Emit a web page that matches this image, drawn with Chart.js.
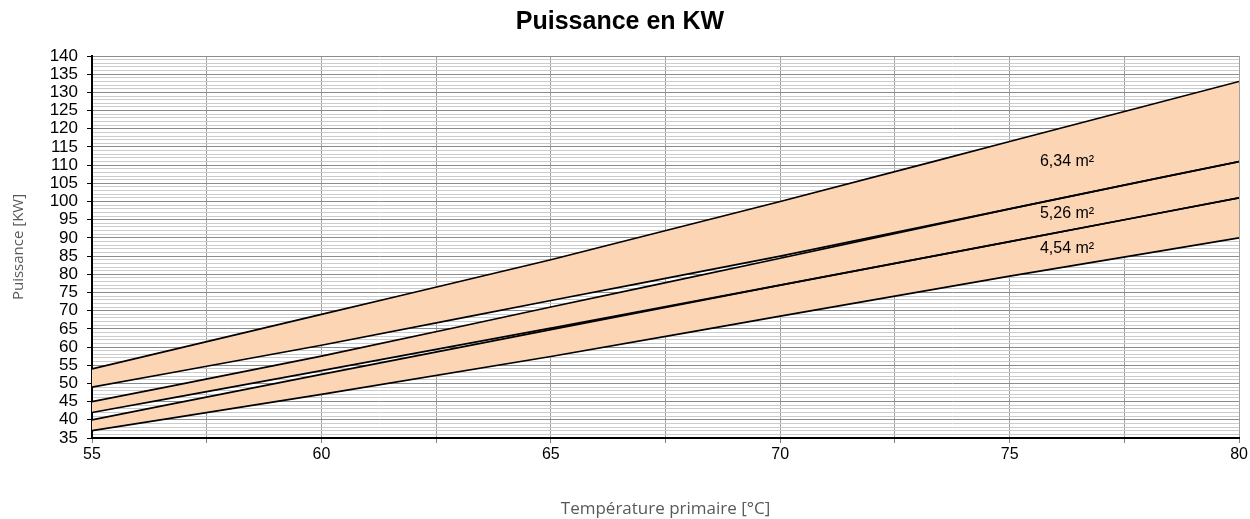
<!DOCTYPE html>
<html>
<head>
<meta charset="utf-8">
<script src="https://cdn.jsdelivr.net/npm/chart.js@4/dist/chart.umd.min.js"></script>
<style>
html, body { margin: 0; padding: 0; background: #fff; }
#wrap { width: 1250px; height: 519px; }
</style>
</head>
<body>
<div id="wrap"><canvas id="puissanceChart"></canvas></div>
<script>
// temperatures primaire (°C) et courbes de puissance (KW)
var temperatures = [55, 60, 65, 70, 75, 80];
var haut634 = [54, 69, 84, 100, 116.5, 133];
var bas634  = [49, 60.5, 72.8, 85.0, 98, 111];
var haut526 = [45, 57.5, 71, 84.4, 98, 111];
var bas526  = [42, 53.5, 65.2, 77, 89, 101];
var haut454 = [40, 52.5, 64.8, 77, 89, 101];
var bas454  = [37, 47, 57.4, 68.5, 79.5, 90];
var surfaces = ['6,34 m²', '5,26 m²', '4,54 m²'];
var yTicks = [35, 140];
var xTicks = [55, 80];

var fillColor = '#fcd5b5';

function pts(vals) {
    return temperatures.map(function (t, i) { return { x: t, y: vals[i] }; });
}

function ligne(vals, fill) {
    return {
        data: pts(vals),
        borderColor: '#000',
        borderWidth: 1.7,
        pointRadius: 0,
        cubicInterpolationMode: 'monotone',
        fill: fill,
        backgroundColor: fillColor
    };
}

// value of a curve at temperature t (for label placement only)
function valeurA(vals, t) {
    for (var i = 0; i < temperatures.length - 1; i++) {
        if (t >= temperatures[i] && t <= temperatures[i + 1]) {
            var k = (t - temperatures[i]) / (temperatures[i + 1] - temperatures[i]);
            return vals[i] + k * (vals[i + 1] - vals[i]);
        }
    }
    return vals[vals.length - 1];
}

var bandes = [[haut634, bas634], [haut526, bas526], [haut454, bas454]];
var labelT = 76.25;

var etiquettes = {
    id: 'etiquettes',
    afterDatasetsDraw: function (chart) {
        var c = chart.ctx, xs = chart.scales.x, ys = chart.scales.y;
        c.save();
        c.fillStyle = '#000';
        c.textAlign = 'center';
        c.textBaseline = 'middle';
        c.font = '16px "Liberation Sans", Arial, sans-serif';
        bandes.forEach(function (b, i) {
            var mid = (valeurA(b[0], labelT) + valeurA(b[1], labelT)) / 2;
            c.fillText(surfaces[i], xs.getPixelForValue(labelT), ys.getPixelForValue(mid));
        });
        c.restore();
    }
};

var ctx = document.getElementById('puissanceChart');
var myChart = new Chart(ctx, {
    type: 'line',
    data: {
        datasets: [
            ligne(haut634, '+1'),
            ligne(bas634, false),
            ligne(haut526, '+1'),
            ligne(bas526, false),
            ligne(haut454, '+1'),
            ligne(bas454, false)
        ]
    },
    plugins: [etiquettes],
    options: {
        responsive: true,
        maintainAspectRatio: false,
        animation: false,
        layout: { padding: { left: 0, right: 10, top: 0, bottom: 0 } },
        plugins: {
            legend: { display: false },
            tooltip: { enabled: false },
            filler: { drawTime: 'beforeDatasetsDraw' },
            title: {
                display: true,
                text: 'Puissance en KW',
                color: '#000',
                font: { family: '"Liberation Sans", Arial, sans-serif', size: 25, weight: 'bold' },
                padding: { top: 7, bottom: 19 }
            }
        },
        scales: {
            x: {
                type: 'linear',
                min: xTicks[0],
                max: xTicks[1],
                afterFit: function (s) { s.height = 81; },
                ticks: {
                    stepSize: 2.5,
                    color: '#000',
                    padding: 2,
                    font: { family: '"Liberation Sans", Arial, sans-serif', size: 16 },
                    callback: function (v) { return v % 5 === 0 ? v : ''; }
                },
                grid: {
                    color: '#a0a0a0',
                    lineWidth: 1,
                    tickLength: 5,
                    tickColor: '#808080'
                },
                border: { color: '#000', width: 2 },
                title: {
                    display: true,
                    text: 'Température primaire [°C]',
                    color: '#595959',
                    font: { family: '"Open Sans", sans-serif', size: 17 },
                    padding: { top: 36, bottom: 0 }
                }
            },
            y: {
                min: yTicks[0],
                max: yTicks[1],
                afterFit: function (s) { s.width = 92; },
                ticks: {
                    stepSize: 1,
                    autoSkip: false,
                    color: '#000',
                    padding: 9,
                    font: { family: '"Liberation Sans", Arial, sans-serif', size: 17 },
                    callback: function (v) { return v % 5 === 0 ? v : ''; }
                },
                grid: {
                    color: function (c) { return c.tick && c.tick.value % 5 === 0 ? '#8c8c8c' : '#cccccc'; },
                    lineWidth: 1,
                    tickLength: 5,
                    tickColor: function (c) { return c.tick && c.tick.value % 5 === 0 ? '#000' : 'rgba(0,0,0,0)'; }
                },
                border: { color: '#000', width: 2 },
                title: {
                    display: true,
                    text: 'Puissance [KW]',
                    color: '#595959',
                    font: { family: '"Open Sans", sans-serif', size: 15 },
                    padding: { top: 10, bottom: 0 }
                }
            }
        }
    }
});
</script>
</body>
</html>
